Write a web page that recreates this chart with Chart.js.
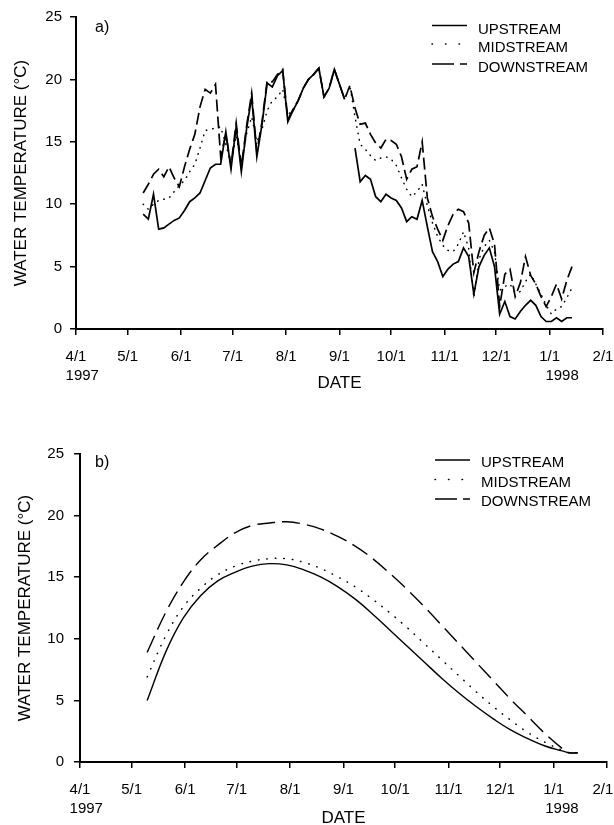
<!DOCTYPE html>
<html>
<head>
<meta charset="utf-8">
<script src="https://cdn.jsdelivr.net/npm/chart.js@4.4.1/dist/chart.umd.min.js"></script>
<style>
  body { margin: 0; background: #fff; }
  canvas { position: absolute; left: 0; }
  #grafikA { top: 0; }
  #grafikB { top: 410px; }
</style>
</head>
<body>
<canvas id="grafikA" width="614" height="410"></canvas>
<canvas id="grafikB" width="614" height="415"></canvas>
<script>
// hari sejak 4/1/1997
const tickDays = [0, 30, 61, 91, 122, 153, 183, 214, 244, 275, 306];
const tickLabelsA = [['4/1', '   1997'], '5/1', '6/1', '7/1', '8/1', '9/1', '10/1', '11/1', '12/1', ['1/1', '      1998'], '2/1'];
const tickLabelsB = [['4/1', '   1997'], '5/1', '6/1', '7/1', '8/1', '9/1', '10/1', '11/1', '12/1', ['1/1', '    1998'], '2/1  '];

// a) data harian (dibaca dari grafik)
const aDays = [39, 42, 45, 48, 51, 54, 57, 60, 63, 66, 69, 72,
  75, 78, 81, 84, 87, 90, 93, 96, 99, 102, 105, 108,
  111, 114, 117, 120, 123, 126, 129, 132, 135, 138, 141, 144,
  147, 150, 153, 156, 159, 162, 165, 168, 171, 174, 177, 180,
  183, 186, 189, 192, 195, 198, 201, 204, 207, 210, 213, 216,
  219, 222, 225, 228, 231, 234, 237, 240, 243, 246, 249, 252,
  255, 258, 261, 264, 267, 270, 273, 276, 279, 282, 285, 288];

const aUp = [9.2, 8.8, 10.8, 8.0, 8.1, 8.4, 8.7, 8.9, 9.5, 10.2, 10.5, 10.9,
  11.9, 12.9, 13.2, 13.2, 15.8, 12.8, 16.2, 12.6, 16.0, 18.6, 13.8, 16.4,
  19.7, 19.4, 20.3, 20.7, 16.6, 17.5, 18.3, 19.3, 20.0, 20.4, 20.9, 18.6,
  19.3, 20.8, 19.6, 18.4, null, 14.5, 11.8, 12.3, 12.0, 10.6, 10.2, 10.8,
  10.5, 10.3, 9.7, 8.6, 9.0, 8.8, 10.3, 8.2, 6.2, 5.4, 4.2, 4.8,
  5.2, 5.4, 6.5, 5.8, 2.8, 5.0, 5.9, 6.5, 5.0, 1.2, 2.2, 1.0,
  0.8, 1.4, 1.9, 2.3, 1.9, 1.0, 0.6, 0.6, 0.9, 0.6, 0.9, 0.9];

const aMid = [10.0, 9.6, 10.0, 10.3, 10.4, 10.5, 11.0, 11.5, 11.9, 12.6, 13.2, 14.5,
  15.9, 16.0, 16.1, 16.2, 14.8, 13.2, 15.5, 13.2, 15.6, 17.0, 15.0, 16.0,
  17.5, 18.3, 18.6, 19.2, 17.2, 17.5, 18.3, 19.3, 20.0, 20.4, 20.9, 18.6,
  19.3, 20.8, 19.6, 18.4, 19.5, 17.0, 14.8, 14.4, 13.9, 13.5, 13.7, 13.8,
  13.6, 13.1, 12.1, 11.2, 10.6, 11.0, 11.6, 9.9, 8.5, 7.4, 6.7, 6.3,
  6.2, 6.8, 7.8, 6.5, 2.5, 5.6, 6.6, 7.1, 6.2, 3.1, 3.4, 3.6,
  2.9, 3.0, 3.8, 4.4, 3.6, 2.8, 1.9, 1.2, 1.6, 1.8, 2.5, 3.3];

const aDown = [10.9, 11.6, 12.4, 12.8, 12.2, 13.0, 12.1, 11.4, 13.0, 14.4, 15.6, 17.8,
  19.2, 18.9, 19.6, 13.8, 15.6, 13.1, 16.5, 13.0, 16.2, 18.9, 14.2, 16.6,
  19.9, 19.8, 20.4, 20.8, 16.8, 17.6, 18.3, 19.3, 20.0, 20.4, 20.9, 18.6,
  19.3, 20.8, 19.6, 18.4, 19.5, 17.7, 16.4, 16.5, 15.6, 14.9, 14.5, 15.2,
  15.1, 14.8, 13.8, 12.0, 12.8, 13.0, 15.0, 10.5, 9.0, 8.0, 7.1, 8.3,
  9.2, 9.6, 9.4, 8.5, 4.5, 6.2, 7.5, 8.1, 6.8, 1.8, 4.4, 4.8,
  2.6, 3.7, 5.8, 4.3, 3.6, 2.6, 1.8, 2.6, 3.6, 2.4, 3.9, 5.0];

// b) kurva model
const bDays = [39, 50, 60, 70, 80, 90, 100, 110, 120, 130, 140, 150, 160, 170,
  180, 190, 200, 210, 220, 230, 240, 250, 260, 270, 280, 284, 289];
const bUp = [5.0, 9.0, 11.7, 13.5, 14.7, 15.4, 15.9, 16.1, 16.0, 15.6, 15.0, 14.2, 13.2, 12.0,
  10.7, 9.4, 8.1, 6.8, 5.6, 4.5, 3.5, 2.6, 1.9, 1.3, 0.9, 0.75, 0.75];
const bMid = [6.9, 10.3, 12.6, 14.1, 15.2, 15.9, 16.3, 16.5, 16.5, 16.2, 15.7, 15.0, 14.2, 13.2,
  12.1, 10.9, 9.6, 8.3, 7.0, 5.7, 4.5, 3.4, 2.4, 1.6, 0.95, 0.75, 0.75];
const bDown = [8.9, 12.2, 14.6, 16.4, 17.6, 18.6, 19.2, 19.4, 19.5, 19.3, 18.9, 18.3, 17.5, 16.5,
  15.3, 14.0, 12.6, 11.1, 9.6, 8.1, 6.6, 5.1, 3.7, 2.3, 1.1, 0.75, 0.75];

const FONT = '"Liberation Sans", Arial, sans-serif';

// huruf panel + legenda
const hiasan = {
  id: 'hiasan',
  afterDraw(chart, args, opt) {
    const c = chart.ctx;
    c.save();
    c.fillStyle = '#000';
    c.strokeStyle = '#000';
    c.textBaseline = 'middle';
    c.font = '16px ' + FONT;
    c.fillText(opt.huruf, opt.hurufX, opt.hurufY);
    c.font = '15px ' + FONT;
    chart.data.datasets.forEach((ds, i) => {
      const y = opt.legY[i];
      c.beginPath();
      c.lineWidth = 1.5;
      c.lineCap = ds.borderCapStyle || 'butt';
      c.setLineDash(ds.legendDash || []);
      c.moveTo(opt.legX, y + opt.lineOff);
      c.lineTo(opt.legX + 35, y + opt.lineOff);
      c.stroke();
      c.setLineDash([]);
      c.fillText(ds.label, opt.legX + 46, y);
    });
    c.restore();
  }
};

function buatPanel(id, cfg) {
  const toXY = vals => cfg.days.map((d, i) => ({ x: d, y: vals[i] }));

  new Chart(document.getElementById(id), {
    type: 'line',
    data: {
      datasets: [
        { label: 'UPSTREAM', data: toXY(cfg.up), borderColor: '#000', borderWidth: cfg.lw,
          legendDash: [] },
        { label: 'MIDSTREAM', data: toXY(cfg.mid), borderColor: '#000', borderWidth: 1.5,
          borderDash: cfg.dot, borderCapStyle: 'round', legendDash: [0.5, 13] },
        { label: 'DOWNSTREAM', data: toXY(cfg.down), borderColor: '#000', borderWidth: cfg.lw,
          borderDash: cfg.dash, legendDash: [22, 6] }
      ]
    },
    options: {
      responsive: false,
      animation: false,
      devicePixelRatio: 1,
      layout: { padding: { left: 0, right: cfg.padRight, top: cfg.padTop, bottom: 0 } },
      elements: {
        point: { radius: 0 },
        line: { tension: cfg.tension, cubicInterpolationMode: 'default', fill: false }
      },
      plugins: {
        legend: { display: false },
        tooltip: { enabled: false },
        hiasan: cfg.hiasan
      },
      scales: {
        x: {
          type: 'linear',
          min: 0,
          max: 306,
          afterBuildTicks: s => { s.ticks = tickDays.map(v => ({ value: v })); },
          afterFit: s => { s.height = cfg.xHeight; s.paddingRight = 0; s.paddingLeft = 0; },
          ticks: {
            autoSkip: false, maxRotation: 0, color: '#000', padding: 12,
            font: { family: FONT, size: 15, lineHeight: 1.3 },
            callback: (v, i) => cfg.labels[i]
          },
          grid: { drawOnChartArea: false, drawTicks: true, tickLength: 6, color: '#000', lineWidth: 1.5 },
          border: { display: true, color: '#000', width: 2 },
          title: {
            display: true, text: 'DATE', color: '#000',
            font: { family: FONT, size: 17, lineHeight: 1 },
            padding: { top: 0, bottom: cfg.datePad }
          }
        },
        y: {
          min: 0,
          max: 25,
          afterFit: s => { s.width = cfg.yWidth; },
          ticks: {
            stepSize: 5, color: '#000', padding: cfg.yPad,
            font: { family: FONT, size: 15 }
          },
          grid: { drawOnChartArea: false, drawTicks: true, tickLength: 6, color: '#000', lineWidth: 1.5 },
          border: { display: true, color: '#000', width: 2 },
          title: {
            display: true, text: 'WATER TEMPERATURE (°C)', color: '#000',
            font: { family: FONT, size: 17, lineHeight: 1 },
            padding: { top: cfg.yTitlePad, bottom: 0 }
          }
        }
      }
    },
    plugins: [hiasan]
  });
}

buatPanel('grafikA', {
  days: aDays, up: aUp, mid: aMid, down: aDown, labels: tickLabelsA,
  lw: 1.7, dot: [0.5, 6], dash: [12, 5], tension: 0,
  padTop: 15, padRight: 11, yWidth: 76, xHeight: 81, yPad: 8,
  datePad: 18, yTitlePad: 13,
  hiasan: { huruf: 'a)', hurufX: 95, hurufY: 28, legX: 432, legY: [29.5, 48, 68], lineOff: -4 }
});

buatPanel('grafikB', {
  days: bDays, up: bUp, mid: bMid, down: bDown, labels: tickLabelsB,
  lw: 1.4, dot: [0.5, 8], dash: [18, 7], tension: 0.4,
  padTop: 44, padRight: 7, yWidth: 80, xHeight: 63, yPad: 10,
  datePad: -2, yTitlePad: 17,
  hiasan: { huruf: 'b)', hurufX: 95, hurufY: 52.5, legX: 435, legY: [53, 72.5, 92], lineOff: -3 }
});
</script>
</body>
</html>
